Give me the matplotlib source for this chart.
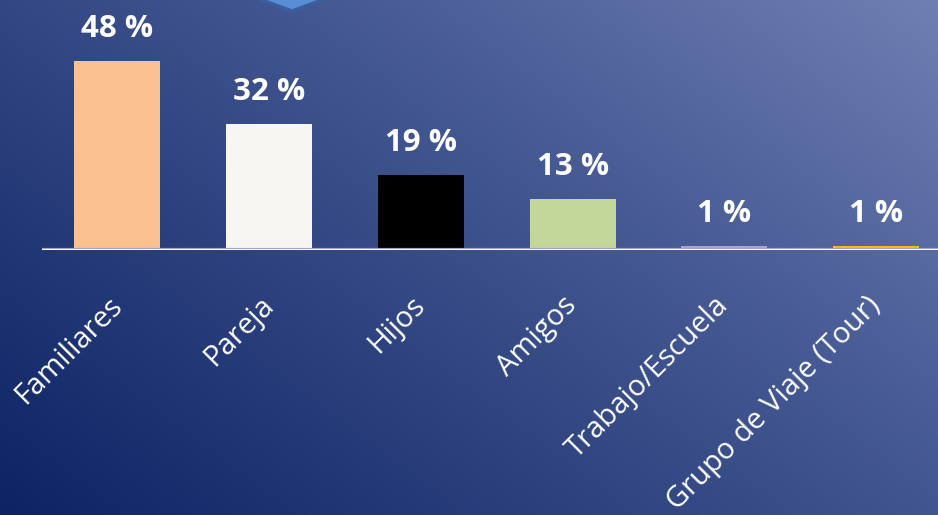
import numpy as np
import matplotlib
matplotlib.use("Agg")
import matplotlib.pyplot as plt
from matplotlib.colors import LinearSegmentedColormap
from matplotlib.patches import Polygon

categories = ["Familiares", "Pareja", "Hijos", "Amigos", "Trabajo/Escuela", "Grupo de Viaje (Tour)"]
values = [48, 32, 19, 13, 1, 1]
value_labels = ["48 %", "32 %", "19 %", "13 %", "1 %", "1 %"]
bar_colors = ["#FAC090", "#F7F6F3", "#000000", "#C4D79B", "#B3A2C7", "#FFC000"]

W, H, DPI = 938, 515, 100
plt.rcParams["font.family"] = ["Open Sans", "DejaVu Sans"]

fig = plt.figure(figsize=(W / DPI, H / DPI), dpi=DPI)

# diagonal background gradient: dark navy bottom-left to grey-blue top-right
bg = fig.add_axes([0, 0, 1, 1])
bg.set_axis_off()
yy, xx = np.mgrid[0:H, 0:W]
t = 0.58 * xx / W + 0.42 * (1 - yy / H)
cmap = LinearSegmentedColormap.from_list("bg", ["#0e2364", "#2a3f7c", "#4a5d97", "#6f7fb3"])
bg.imshow(t, cmap=cmap, aspect="auto", extent=[0, W, H, 0], vmin=0, vmax=1)
bg.set_xlim(0, W)
bg.set_ylim(H, 0)

# decorative hexagon tip at top
hexagon = Polygon([(262, -5), (262, 0), (292, 11), (322, 0), (322, -5)],
                  closed=True, facecolor="#5a8ed4", edgecolor="#3a5f9e", linewidth=2.5)
bg.add_patch(hexagon)

x0, x1 = 41.6, 951.9
base_y = 250
ax = fig.add_axes([x0 / W, (H - base_y) / H, (x1 - x0) / W, base_y / H])
ax.patch.set_alpha(0)
x = np.arange(len(categories))
ax.bar(x, values, width=0.567, color=bar_colors, zorder=2)
ax.set_xlim(-0.5, len(categories) - 0.5)
ax.set_ylim(0, base_y / 3.94)

for xi, v, lab in zip(x, values, value_labels):
    ax.annotate(lab, (xi, v), xytext=(0, 23), textcoords="offset points",
                ha="center", va="center", color="white", fontsize=22.5,
                fontweight="bold", zorder=3)

ax.axhline(0, color="#9aa3bf", lw=3.0, zorder=3)
ax.axhline(0, color="white", lw=1.5, zorder=4)

for s in ax.spines.values():
    s.set_visible(False)
ax.set_yticks([])
ax.set_xticks(x)
ax.set_xticklabels(categories, rotation=45, ha="right", va="center",
                   rotation_mode="anchor", color="white", fontsize=21)
ax.tick_params(axis="x", length=0, pad=37)

fig.savefig("out.png", dpi=DPI)
